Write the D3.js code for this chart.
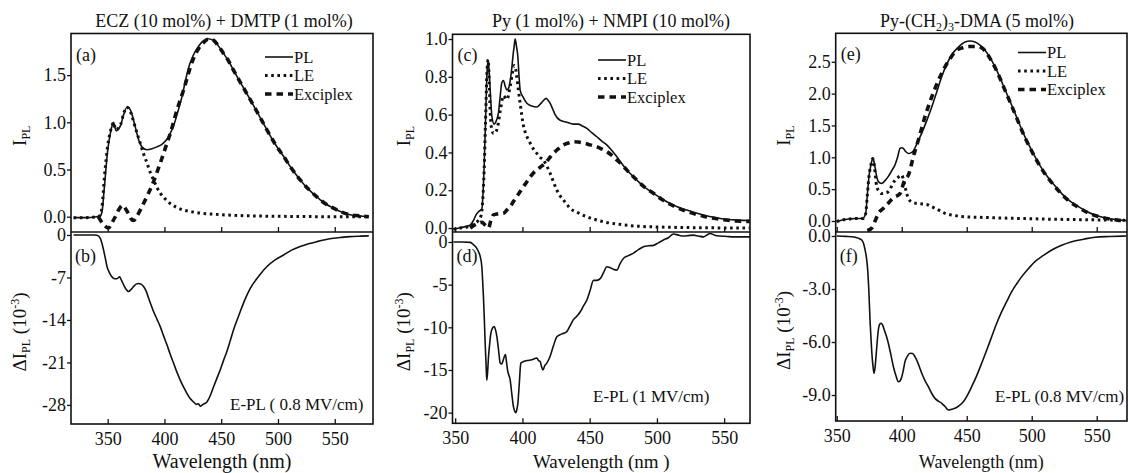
<!DOCTYPE html>
<html>
<head>
<meta charset="utf-8">
<script src="https://cdn.jsdelivr.net/npm/d3@7"></script>
<style>
  body { margin: 0; background: #fff; }
  svg text { font-family: "Liberation Serif", "Times New Roman", serif; fill: #111; }
</style>
</head>
<body>
<div id="chart"></div>
<script>
// ---- data (wavelength nm, value) ----
const xTicks = [350, 400, 450, 500, 550];

// (a) ECZ + DMTP
const aPL = [[320,-0.01],[330,-0.01],[340,0],[343.5,0.01],[345,0.05],[347,0.3],[350,0.7],[352.3,0.88],[354,0.97],[355.2,1.0],[356.3,0.95],[357.5,0.91],[359.5,0.93],[361.5,0.97],[364,1.08],[367,1.16],[369,1.15],[371,1.1],[373.5,0.99],[375.8,0.88],[378,0.79],[380.2,0.74],[384.6,0.71],[389,0.72],[393.4,0.74],[398,0.77],[402.2,0.82],[405,0.88],[408,0.96],[411.5,1.1],[415.4,1.27],[418.5,1.44],[421.3,1.58],[425,1.7],[428.6,1.78],[433,1.85],[438,1.885],[443,1.87],[447.5,1.81],[452,1.73],[456.5,1.65],[460.9,1.55],[468,1.4],[475.6,1.24],[483,1.08],[490.3,0.92],[497.5,0.77],[504.9,0.64],[512,0.51],[519.6,0.39],[527,0.29],[534.3,0.21],[541.5,0.14],[548.9,0.09],[556,0.05],[563.6,0.02],[571,0.01],[580,0.0]];
const aLE = [[320,-0.01],[330,-0.01],[340,0],[343,0.01],[345,0.1],[347,0.4],[350,0.75],[352.3,0.9],[354,0.97],[355.2,1.0],[356.3,0.95],[357.5,0.92],[359.5,0.94],[361.5,0.98],[364,1.09],[367,1.16],[369,1.14],[371,1.08],[373.5,0.98],[376,0.88],[378.7,0.78],[381.5,0.67],[384.6,0.57],[387.5,0.47],[390.4,0.39],[393.4,0.31],[396.3,0.25],[400.5,0.19],[405,0.14],[410.5,0.1],[416.8,0.07],[423,0.055],[430.4,0.04],[445,0.025],[460,0.015],[480,0.008],[510,0.003],[550,0.0],[580,0.0]];
const aEx = [[341.8,0],[343.5,-0.035],[347,-0.09],[350.8,-0.12],[353.5,-0.07],[356.7,0.0],[360,0.08],[363.5,0.12],[366,0.08],[368.4,0.03],[370.5,-0.02],[372.8,-0.04],[375.5,0.0],[378.7,0.07],[382,0.15],[386,0.25],[389,0.33],[391.9,0.42],[395.5,0.54],[399.2,0.67],[402,0.77],[405.1,0.88],[408,1.0],[411,1.13],[414,1.24],[416.8,1.34],[420,1.47],[422.7,1.58],[426,1.69],[430,1.78],[434,1.84],[438.8,1.88],[443,1.87],[447.5,1.81],[452,1.73],[456.5,1.65],[460.9,1.55],[468,1.4],[475.6,1.24],[483,1.08],[490.3,0.92],[497.5,0.77],[504.9,0.64],[512,0.51],[519.6,0.39],[527,0.29],[534.3,0.21],[541.5,0.14],[548.9,0.09],[556,0.05],[563.6,0.02],[571,0.01],[580,0.0]];
// (b) E-PL 0.8 MV/cm, 10^-3
const bEPL = [[320,0],[330,0],[338,0],[340.6,-0.05],[343.5,-0.55],[345,-1.4],[346.4,-2.5],[348,-3.9],[349.4,-5.2],[351.5,-6.2],[353.8,-6.9],[356,-7.2],[358.2,-7.2],[360.5,-6.9],[362,-7.4],[364,-8.2],[366,-8.9],[368.4,-9.3],[370.5,-9.0],[372.8,-8.5],[375,-8.1],[377.2,-8.0],[379.5,-8.1],[381.6,-8.5],[384,-9.3],[386,-10.4],[388,-11.4],[390.4,-12.6],[393.5,-13.9],[396.3,-15.1],[399,-16.5],[402.2,-18.1],[405,-19.6],[408,-21.1],[411,-22.6],[413.9,-23.9],[417,-25.1],[419.8,-26.1],[422.5,-26.9],[425.6,-27.5],[428,-27.9],[430,-27.8],[431.5,-28.2],[434,-27.9],[437.4,-27.5],[440.5,-26.4],[443.3,-25.0],[446,-23.7],[449.2,-22.2],[452,-20.7],[455,-19.2],[458,-17.4],[460.9,-15.6],[464,-14.0],[466.8,-12.6],[471,-10.6],[475.6,-8.8],[483,-6.8],[490.3,-5.2],[497.5,-4.1],[504.9,-3.3],[512,-2.5],[519.6,-1.9],[527,-1.45],[534.3,-1.1],[541.5,-0.8],[548.9,-0.55],[556,-0.4],[563.6,-0.27],[572,-0.2],[580,-0.15]];

// (c) Py + NMPI
const cPL = [[348.7,-0.007],[353,0.0],[358.7,0.01],[361,0.015],[363.6,0.04],[365.5,0.07],[367.3,0.086],[369.8,0.10],[370.8,0.2],[371.5,0.32],[372.5,0.55],[373.5,0.80],[374.5,0.89],[375.5,0.80],[376.4,0.68],[377.3,0.59],[379,0.55],[380.7,0.57],[382.2,0.61],[383.5,0.7],[384.7,0.77],[385.9,0.78],[387.2,0.75],[388.4,0.73],[389.7,0.74],[390.9,0.78],[392,0.84],[392.9,0.906],[393.8,0.96],[394.6,1.0],[395.6,0.96],[396.6,0.906],[397.5,0.8],[398.3,0.73],[400.3,0.695],[403.3,0.66],[407,0.645],[410.7,0.64],[414.4,0.665],[417.6,0.686],[419.2,0.675],[420.6,0.66],[422.5,0.63],[424.3,0.6],[428,0.57],[433,0.56],[437.9,0.55],[441.6,0.55],[444.5,0.54],[447.9,0.527],[451.5,0.505],[455.3,0.483],[459,0.46],[462.7,0.44],[466.5,0.41],[470.2,0.377],[474,0.34],[477.6,0.307],[481.3,0.28],[485,0.254],[491,0.215],[497.4,0.184],[503.5,0.155],[509.8,0.13],[516,0.11],[522.2,0.095],[528.4,0.081],[534.6,0.069],[541,0.058],[547,0.05],[553,0.045],[559.3,0.042],[569,0.04]];
const cLE = [[348.7,-0.007],[353,0.0],[358.7,0.005],[363.6,0.02],[367.3,0.04],[369,0.06],[370.5,0.15],[371.5,0.3],[372.5,0.55],[373.5,0.80],[374.5,0.89],[375.3,0.78],[376,0.62],[377,0.53],[378.5,0.50],[381,0.52],[383.5,0.62],[385.9,0.70],[388.4,0.68],[390.9,0.75],[392.5,0.82],[393.9,0.86],[395,0.84],[395.8,0.80],[397,0.73],[398.3,0.66],[400.8,0.54],[403,0.49],[405.7,0.45],[408,0.42],[410.7,0.395],[413,0.375],[415.6,0.36],[418,0.33],[420.6,0.29],[423,0.245],[425.6,0.2],[428,0.17],[430.5,0.148],[433,0.125],[435.5,0.104],[441.5,0.08],[447.9,0.06],[454,0.045],[460.2,0.033],[472,0.02],[485,0.01],[510,0.004],[540,0.001],[569,0.0]];
const cEx = [[361.2,0.0],[365.5,0.02],[369.8,0.03],[372.3,0.015],[374.8,0.0],[376.5,0.04],[378.5,0.07],[382,0.075],[385.9,0.078],[388.4,0.095],[390.9,0.113],[393.3,0.14],[395.8,0.166],[398.3,0.193],[400.8,0.22],[403.3,0.245],[405.7,0.27],[408,0.29],[410.7,0.307],[413.8,0.325],[416.9,0.342],[420,0.37],[423,0.395],[426.8,0.42],[430.5,0.44],[434.2,0.45],[437.9,0.457],[441.6,0.455],[445.3,0.45],[450.3,0.44],[455.3,0.43],[459,0.418],[462.7,0.404],[466.5,0.385],[470.2,0.36],[474,0.335],[477.6,0.307],[481.3,0.28],[485,0.254],[491,0.215],[497.4,0.184],[503.5,0.152],[509.8,0.126],[516,0.105],[522.2,0.088],[528.4,0.074],[534.6,0.062],[541,0.053],[547,0.046],[553,0.041],[559.3,0.037],[569,0.035]];
// (d) E-PL 1 MV/cm
const dEPL = [[348.7,0],[355,0],[361.2,-0.05],[363.5,-0.3],[366.1,-0.74],[367.5,-1.2],[368.6,-1.7],[369.8,-2.9],[370.4,-4.5],[371,-6.4],[371.7,-9.2],[372.3,-11.9],[373,-14.5],[373.5,-16.2],[374.2,-15.0],[374.8,-13.4],[375.6,-12.0],[376.5,-10.7],[377.7,-10.1],[379,-9.9],[380,-10.3],[381,-11.1],[382.2,-12.6],[383.5,-14.2],[384.5,-14.3],[385.4,-14.0],[386.4,-13.5],[387.4,-13.2],[388.1,-14.0],[388.9,-15.0],[390.9,-16.2],[392.1,-17.8],[393.3,-19.3],[394.2,-19.8],[395.1,-20.0],[395.9,-19.6],[396.6,-18.9],[397.7,-16.5],[398.8,-14.2],[401,-14.0],[403.3,-13.9],[407,-13.8],[410.7,-13.6],[412,-13.9],[413.2,-14.0],[414.2,-14.6],[415.2,-15.0],[416.6,-14.5],[418.1,-14.2],[420.6,-13.4],[423,-12.2],[425.6,-11.1],[429,-10.8],[433,-10.5],[435.5,-9.8],[437.9,-9.1],[440.4,-8.7],[442.9,-8.2],[445.4,-7.5],[447.9,-6.8],[450.3,-5.7],[452.8,-4.5],[455.3,-4.5],[457.8,-4.3],[460.3,-3.6],[462.7,-2.9],[465,-3.0],[467.5,-3.2],[470.2,-3.3],[472.7,-2.5],[475.2,-1.9],[478.9,-1.6],[482.6,-1.3],[486.3,-0.9],[490,-0.55],[493.7,-0.45],[497.4,-0.4],[501,-0.1],[504.8,0.23],[508.5,0.5],[512.3,0.94],[516,0.8],[519.7,0.7],[523.4,0.75],[527.1,0.8],[530.8,0.7],[534.6,0.6],[537,0.8],[539.5,1.0],[543,0.8],[547,0.7],[552,0.65],[556.9,0.6],[563,0.6],[569.2,0.6]];

// (e) Py-(CH2)3-DMA
const ePL = [[350,-0.01],[355,0.02],[359,0.03],[365,0.04],[370.5,0.04],[371.5,0.08],[372.3,0.12],[373.5,0.4],[374.8,0.70],[376.3,0.88],[377.7,0.98],[378.9,0.91],[380.2,0.75],[381.5,0.64],[383,0.60],[384.6,0.59],[387,0.63],[389.7,0.70],[392.3,0.79],[394.8,0.88],[396.8,1.0],[398.7,1.14],[400,1.15],[401.2,1.14],[403,1.09],[405.1,1.06],[407,1.07],[408.9,1.1],[412,1.23],[415.4,1.38],[419.3,1.58],[423.1,1.79],[427,2.03],[430.8,2.27],[434.6,2.46],[438.5,2.61],[443.6,2.73],[448.7,2.81],[452.5,2.825],[456.4,2.81],[460.2,2.76],[464.1,2.68],[468,2.56],[471.8,2.42],[475.6,2.25],[479.5,2.06],[483.3,1.88],[487.2,1.69],[491,1.5],[494.8,1.32],[498.7,1.16],[502.5,1.01],[506.4,0.87],[510.2,0.75],[516.7,0.58],[523.1,0.43],[529.5,0.31],[535.9,0.225],[542.3,0.15],[548.7,0.094],[555.1,0.055],[561.5,0.03],[567,0.015],[573,0.005]];
const eLE = [[350,-0.01],[355,0.02],[359,0.03],[365,0.04],[370.5,0.04],[371.5,0.08],[372.3,0.12],[373.5,0.4],[374.8,0.70],[376.3,0.88],[377.7,0.98],[378.9,0.86],[380.8,0.54],[382.5,0.47],[384.6,0.43],[387,0.44],[389.7,0.46],[392.3,0.55],[394.8,0.64],[397.5,0.69],[400,0.72],[401.3,0.65],[402.5,0.54],[404,0.42],[405.1,0.35],[407.5,0.3],[410.2,0.28],[414.5,0.27],[419.2,0.26],[422.5,0.23],[425.6,0.2],[429.5,0.16],[433.3,0.12],[439.7,0.09],[446.2,0.07],[459,0.058],[471.8,0.05],[490,0.04],[510,0.03],[540,0.02],[573,0.01]];
const eEx = [[373.5,-0.15],[376.9,-0.11],[379.5,0.0],[382,0.12],[386,0.2],[389.7,0.28],[392.3,0.34],[394.8,0.38],[396.8,0.4],[398.7,0.43],[400.3,0.52],[401.8,0.62],[403.5,0.67],[405.1,0.72],[407,0.85],[408.9,1.01],[410.8,1.14],[412.8,1.27],[415.4,1.46],[417.9,1.64],[420.5,1.8],[423.1,1.95],[425.6,2.08],[428.2,2.21],[430.8,2.32],[433.3,2.42],[437.2,2.55],[441.1,2.66],[446.8,2.72],[452.5,2.74],[457,2.74],[461.5,2.72],[464.5,2.66],[468,2.55],[471.8,2.41],[475.6,2.24],[479.5,2.05],[483.3,1.87],[487.2,1.68],[491,1.49],[494.8,1.31],[498.7,1.15],[502.5,1.0],[506.4,0.86],[510.2,0.74],[516.7,0.57],[523.1,0.42],[529.5,0.3],[535.9,0.215],[542.3,0.14],[548.7,0.085],[555.1,0.05],[561.5,0.025],[567,0.01],[573,0.0]];
// (f) E-PL 0.8 MV/cm
const fEPL = [[350,0],[357,-0.02],[364.1,-0.07],[366.6,-0.12],[369.2,-0.23],[370.5,-0.4],[371.8,-0.79],[372.8,-1.2],[373.8,-1.92],[374.7,-3.1],[375.6,-4.75],[376.5,-6.0],[377.4,-7.0],[378.1,-7.5],[378.7,-7.77],[379.4,-7.5],[380.2,-6.83],[381.1,-6.0],[382,-5.32],[383,-5.0],[384.1,-4.94],[385.3,-5.05],[386.6,-5.32],[388.1,-5.65],[389.7,-6.07],[391.6,-6.7],[393.6,-7.4],[395.5,-7.9],[397.4,-8.25],[398.7,-8.2],[400,-7.98],[401.2,-7.6],[402.5,-7.11],[404.4,-6.8],[406.4,-6.64],[408.3,-6.65],[410.2,-6.83],[412.8,-7.25],[415.4,-7.77],[418,-8.2],[420.5,-8.53],[423,-8.9],[425.6,-9.19],[428.2,-9.35],[430.8,-9.47],[433.3,-9.65],[435.9,-9.85],[438.5,-9.8],[441,-9.75],[444.2,-9.6],[447.4,-9.38],[450.6,-9.0],[453.8,-8.53],[457.7,-7.9],[461.5,-7.2],[465.4,-6.45],[469.2,-5.7],[473,-4.95],[476.9,-4.28],[480.8,-3.7],[484.6,-3.15],[488.5,-2.7],[492.3,-2.3],[497.4,-1.85],[502.5,-1.45],[509,-1.1],[515.4,-0.79],[523,-0.52],[530.8,-0.32],[540,-0.18],[548.7,-0.07],[560,-0.03],[573,0.0]];

// tick values
const aTicks = [0, 0.5, 1.0, 1.5], bTicks = [0, -7, -14, -21, -28];
const cTicks = [0, 0.2, 0.4, 0.6, 0.8, 1.0], dTicks = [0, -5, -10, -15, -20];
const eTicks = [0, 0.5, 1.0, 1.5, 2.0, 2.5], fTicks = [0, -3, -6, -9];
const legendNames = ["PL", "LE", "Exciplex"];

// ---- drawing ----
const W = 1128, H = 473;
const svg = d3.select("#chart").append("svg").attr("width", W).attr("height", H);

const styles = {
  PL: {w: 1.6, dash: null},
  LE: {w: 3, dash: "2.6,3.6"},
  Exciplex: {w: 3.6, dash: "6.5,5"}
};

const panels = [
  {left: 71, right: 373, top: 33.5, mid: 232, bottom: 424, xd: [317.7, 583.7], td: [-0.162, 1.941], bd: [-31.14, 0.49],
   tTicks: aTicks, bTicks: bTicks, tFmt: d => d.toFixed(1), bFmt: d => String(d),
   series: [aPL, aLE, aEx], diff: bEPL, lab: ["(a)", "(b)"], epl: "E-PL ( 0.8 MV/cm)", eplX: 230, eplY: 410,
   title: "ECZ (10 mol%) + DMTP (1 mol%)", titleX: 224, legX: 265, legY: 57, ylX: 26, xTitle: "Wavelength (nm)", xtSize: 20},
  {left: 452.5, right: 750, top: 34.3, mid: 232, bottom: 423.3, xd: [348, 569.2], td: [-0.021, 1.025], bd: [-21.25, 1.17],
   tTicks: cTicks, bTicks: dTicks, tFmt: d => d.toFixed(1), bFmt: d => String(d),
   series: [cPL, cLE, cEx], diff: dEPL, lab: ["(c)", "(d)"], epl: "E-PL (1 MV/cm)", eplX: 593, eplY: 402,
   title: "Py (1 mol%) + NMPI (10 mol%)", titleX: 611, legX: 598, legY: 60, ylX: 410, xTitle: "Wavelength  (nm )", xtSize: 19},
  {left: 835.7, right: 1127, top: 33.3, mid: 232, bottom: 421, xd: [349.2, 573.3], td: [-0.173, 2.947], bd: [-10.47, 0.226],
   tTicks: eTicks, bTicks: fTicks, tFmt: d => d.toFixed(1), bFmt: d => d.toFixed(1),
   series: [ePL, eLE, eEx], diff: fEPL, lab: ["(e)", "(f)"], epl: "E-PL (0.8 MV/cm)", eplX: 995, eplY: 402,
   title: null, titleX: 977, legX: 1018, legY: 52.5, ylX: 790, xTitle: "Wavelength (nm)", xtSize: 18}
];

panels.forEach(p => {
  const g = svg.append("g");
  const x = d3.scaleLinear().domain(p.xd).range([p.left, p.right]);
  const yT = d3.scaleLinear().domain(p.td).range([p.mid, p.top]);
  const yB = d3.scaleLinear().domain(p.bd).range([p.bottom, p.mid]);

  // clip regions
  const cid = "c" + Math.round(p.left);
  const defs = g.append("defs");
  defs.append("clipPath").attr("id", cid + "t").append("rect")
    .attr("x", p.left).attr("y", p.top).attr("width", p.right - p.left).attr("height", p.mid - p.top);
  defs.append("clipPath").attr("id", cid + "b").append("rect")
    .attr("x", p.left).attr("y", p.mid).attr("width", p.right - p.left).attr("height", p.bottom - p.mid);

  // curves
  const lineT = d3.line().x(d => x(d[0])).y(d => yT(d[1])).curve(d3.curveMonotoneX);
  const lineB = d3.line().x(d => x(d[0])).y(d => yB(d[1])).curve(d3.curveMonotoneX);
  const order = [2, 1, 0];
  order.forEach(i => {
    const st = styles[legendNames[i]];
    g.append("path").attr("d", lineT(p.series[i])).attr("clip-path", `url(#${cid}t)`)
      .attr("fill", "none").attr("stroke", "#111").attr("stroke-width", st.w)
      .attr("stroke-dasharray", st.dash).attr("stroke-linejoin", "round");
  });
  g.append("path").attr("d", lineB(p.diff)).attr("clip-path", `url(#${cid}b)`)
    .attr("fill", "none").attr("stroke", "#111").attr("stroke-width", 1.6).attr("stroke-linejoin", "round");

  // axes
  const axT = g.append("g").attr("transform", `translate(0,${p.mid})`)
    .call(d3.axisBottom(x).tickValues(xTicks).tickSize(-5).tickFormat(""));
  const axB = g.append("g").attr("transform", `translate(0,${p.bottom})`)
    .call(d3.axisBottom(x).tickValues(xTicks).tickSize(-5).tickPadding(8).tickFormat(d3.format("d")));
  const ayT = g.append("g").attr("transform", `translate(${p.left},0)`)
    .call(d3.axisLeft(yT).tickValues(p.tTicks).tickSize(4).tickPadding(1).tickFormat(p.tFmt));
  const ayB = g.append("g").attr("transform", `translate(${p.left},0)`)
    .call(d3.axisLeft(yB).tickValues(p.bTicks).tickSize(4).tickPadding(1).tickFormat(p.bFmt));
  [axT, axB, ayT, ayB].forEach(a => {
    a.select(".domain").remove();
    a.selectAll("line").attr("stroke", "#111").attr("stroke-width", 1.3);
    a.selectAll("text").attr("font-size", 18).attr("fill", "#111")
      .style("font-family", '"Liberation Serif", serif');
  });

  // frames
  g.append("rect").attr("x", p.left).attr("y", p.top).attr("width", p.right - p.left).attr("height", p.bottom - p.top)
    .attr("fill", "none").attr("stroke", "#111").attr("stroke-width", 1.6);
  g.append("line").attr("x1", p.left).attr("x2", p.right).attr("y1", p.mid).attr("y2", p.mid)
    .attr("stroke", "#111").attr("stroke-width", 1.6);

  // panel letters
  g.append("text").attr("x", p.left + 5).attr("y", p.top + 27).attr("font-size", 18).text(p.lab[0]);
  g.append("text").attr("x", p.left + 4).attr("y", p.mid + 30).attr("font-size", 18).text(p.lab[1]);
  g.append("text").attr("x", p.eplX).attr("y", p.eplY).attr("font-size", 17).text(p.epl);

  // legend
  legendNames.forEach((n, i) => {
    const st = styles[n], ly = p.legY + i * 18.5;
    g.append("line").attr("x1", p.legX).attr("x2", p.legX + 28).attr("y1", ly).attr("y2", ly)
      .attr("stroke", "#111").attr("stroke-width", st.w).attr("stroke-dasharray", st.dash);
    g.append("text").attr("x", p.legX + 29).attr("y", ly + 5.5).attr("font-size", 16.5).text(n);
  });

  // title
  const tt = g.append("text").attr("x", p.titleX).attr("y", 27).attr("text-anchor", "middle").attr("font-size", 18);
  if (p.title) tt.text(p.title);
  else {
    tt.append("tspan").text("Py-(CH");
    tt.append("tspan").attr("dy", 4).attr("font-size", 12).text("2");
    tt.append("tspan").attr("dy", -4).text(")");
    tt.append("tspan").attr("dy", 4).attr("font-size", 12).text("3");
    tt.append("tspan").attr("dy", -4).text("-DMA (5 mol%)");
  }

  // x title
  g.append("text").attr("x", (p.left + p.right) / 2).attr("y", 468).attr("text-anchor", "middle")
    .attr("font-size", p.xtSize).text(p.xTitle);

  // y titles
  const yl1 = g.append("text").attr("transform", `translate(${p.ylX},${(p.top + p.mid) / 2 + 3}) rotate(-90)`)
    .attr("text-anchor", "middle").attr("font-size", 19);
  yl1.append("tspan").text("I");
  yl1.append("tspan").attr("dy", 4).attr("font-size", 12).text("PL");
  const yl2 = g.append("text").attr("transform", `translate(${p.ylX},${(p.mid + p.bottom) / 2 + 4}) rotate(-90)`)
    .attr("text-anchor", "middle").attr("font-size", 19);
  yl2.append("tspan").text("ΔI");
  yl2.append("tspan").attr("dy", 4).attr("font-size", 12).text("PL");
  yl2.append("tspan").attr("dy", -4).text(" (10");
  yl2.append("tspan").attr("dy", -7).attr("font-size", 12).text("-3");
  yl2.append("tspan").attr("dy", 7).text(")");
});
</script>
</body>
</html>
